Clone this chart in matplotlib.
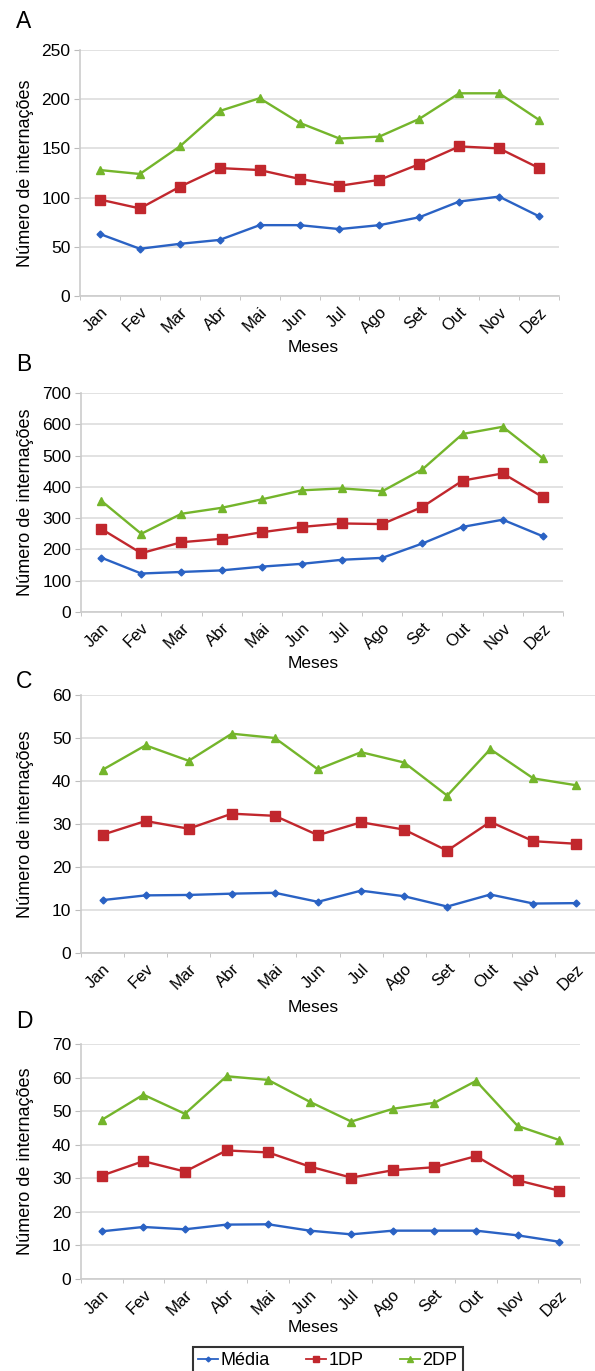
import numpy as np
import matplotlib.pyplot as plt
from matplotlib.ticker import FixedLocator

plt.rcParams['font.family'] = ['Liberation Sans', 'DejaVu Sans']

meses = ["Jan", "Fev", "Mar", "Abr", "Mai", "Jun", "Jul", "Ago", "Set", "Out", "Nov", "Dez"]
series_names = ["Média", "1DP", "2DP"]

# Panel A
a_media = [63, 48, 53, 57, 72, 72, 68, 72, 80, 96, 101, 81]
a_1dp = [98, 89, 111, 130, 128, 119, 112, 118, 134, 152, 150, 130]
a_2dp = [128, 124, 152, 188, 201, 176, 160, 162, 180, 206, 206, 179]

# Panel B
b_media = [174, 123, 128, 133, 145, 154, 167, 173, 219, 272, 295, 242]
b_1dp = [266, 188, 223, 234, 255, 272, 283, 281, 336, 420, 443, 367]
b_2dp = [356, 250, 314, 333, 360, 389, 395, 386, 456, 569, 592, 491]

# Panel C
c_media = [12.3, 13.4, 13.5, 13.8, 14.0, 11.9, 14.5, 13.2, 10.8, 13.6, 11.5, 11.6]
c_1dp = [27.5, 30.7, 28.9, 32.4, 31.9, 27.4, 30.4, 28.7, 23.8, 30.5, 26.0, 25.4]
c_2dp = [42.6, 48.3, 44.7, 51.0, 50.0, 42.7, 46.7, 44.3, 36.6, 47.4, 40.6, 39.0]

# Panel D
d_media = [14.2, 15.5, 14.8, 16.2, 16.3, 14.4, 13.3, 14.4, 14.4, 14.4, 13.0, 11.1]
d_1dp = [30.8, 35.1, 32.0, 38.3, 37.7, 33.5, 30.2, 32.4, 33.3, 36.6, 29.4, 26.3]
d_2dp = [47.4, 54.9, 49.2, 60.4, 59.3, 52.8, 46.9, 50.7, 52.5, 59.0, 45.6, 41.4]

colors = ["#2a62c4", "#c1272d", "#74b52b"]
markers = ["D", "s", "^"]
msizes = [3.5, 6.5, 6]

W, H = 595, 1371
fig = plt.figure(figsize=(W / 100, H / 100), dpi=100)

# panel boxes in pixels: left, right, top, bottom, ymax, ystep, letter, meses y, letter y
panels = [
    (80, 559, 50, 296, 250, 50, "A", 347, 22, (a_media, a_1dp, a_2dp)),
    (81, 563, 393, 612, 700, 100, "B", 663, 364, (b_media, b_1dp, b_2dp)),
    (81, 598, 695, 953, 60, 10, "C", 1008, 681, (c_media, c_1dp, c_2dp)),
    (81, 580, 1044, 1279, 70, 10, "D", 1327, 1022, (d_media, d_1dp, d_2dp)),
]

x = np.arange(len(meses))
handles = []
for left, right, top, bottom, ymax, ystep, letter, my, ly, data in panels:
    ax = fig.add_axes([left / W, 1 - bottom / H, (right - left) / W, (bottom - top) / H])
    hs = []
    for vals, c, m, ms, name in zip(data, colors, markers, msizes, series_names):
        h, = ax.plot(x, vals, color=c, marker=m, markersize=ms, lw=1.7, label=name,
                     markeredgecolor=c, clip_on=False, zorder=3)
        hs.append(h)
    handles = hs
    ax.set_xlim(-0.5, 11.5)
    ax.set_ylim(0, ymax)
    ax.set_yticks(np.arange(0, ymax + 1, ystep))
    ax.set_xticks(x)
    ax.set_xticklabels(meses, rotation=45, ha="right", rotation_mode="anchor", fontsize=12)
    ax.xaxis.set_minor_locator(FixedLocator(np.arange(-0.5, 12, 1)))
    ax.tick_params(axis="x", which="major", length=0, pad=6)
    ax.tick_params(axis="x", which="minor", length=3, color="#bbbbbb")
    ax.tick_params(axis="y", length=4, color="#bbbbbb", labelsize=12.5, pad=3)
    ax.grid(axis="y", color="#dddddd", lw=1.2)
    ax.set_axisbelow(True)
    for s in ["top", "right"]:
        ax.spines[s].set_visible(False)
    for s in ["left", "bottom"]:
        ax.spines[s].set_color("#cccccc")
        ax.spines[s].set_linewidth(1.2)
    ax.set_ylabel("Número de internações", fontsize=13)
    ax.yaxis.set_label_coords((34 - left) / (right - left), 0.5)
    fig.text(313 / W, 1 - my / H, "Meses", ha="center", va="center", fontsize=12.5)
    fig.text(16 / W, 1 - ly / H, letter, ha="left", va="center", fontsize=16.5)

leg = fig.legend(handles=handles, loc="upper left", ncol=3, fontsize=13,
                 bbox_to_anchor=(193 / W, 1 - 1347 / H), frameon=True, fancybox=False,
                 handlelength=1.1, handletextpad=0.15, columnspacing=2.0,
                 markerscale=0.7, borderpad=0.3, borderaxespad=0)
leg.get_frame().set_edgecolor("black")
leg.get_frame().set_linewidth(1.5)
for line in leg.get_lines():
    line.set_linewidth(1.3)

fig.savefig("out.png", dpi=100)
